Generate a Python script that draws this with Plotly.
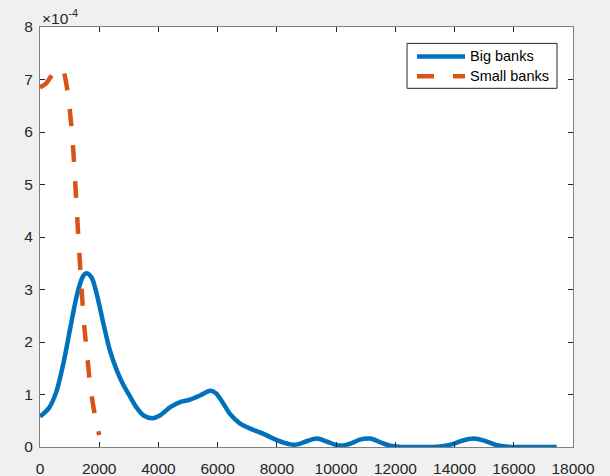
import plotly.graph_objects as go

# Data (density values in units of 1e-4)
big_x = [0, 300, 550, 800, 1000, 1250, 1450, 1580, 1750, 1900, 2150, 2350, 2600, 2800,
         3050, 3250, 3500, 3800, 4050, 4400, 4750, 5050, 5400, 5750, 5950, 6200, 6400,
         6750, 7100, 7550, 8000, 8450, 8700, 9000, 9350, 9700, 10000, 10250, 10550,
         10800, 11150, 11500, 11800, 12100, 12500, 13000, 13500, 13900, 14250, 14650,
         15000, 15400, 15800, 16200, 17000, 17450]
big_y_e4 = [0.58, 0.74, 1.05, 1.62, 2.2, 2.9, 3.25, 3.31, 3.22, 2.95, 2.33, 1.86, 1.45, 1.2,
            0.95, 0.76, 0.6, 0.55, 0.6, 0.76, 0.86, 0.9, 0.98, 1.07, 1.02, 0.82, 0.64,
            0.45, 0.35, 0.25, 0.13, 0.05, 0.05, 0.11, 0.16, 0.1, 0.04, 0.03, 0.08,
            0.14, 0.16, 0.09, 0.03, 0.005, 0.0, 0.0, 0.01, 0.05, 0.12, 0.16,
            0.12, 0.04, 0.005, 0.0, 0.0, 0.0]

small_x = [0, 200, 400, 600, 720, 800, 900, 1000, 1100, 1200, 1300, 1400, 1500, 1600,
           1700, 1800, 1900, 2000]
small_y_e4 = [6.85, 6.92, 7.08, 7.19, 7.22, 7.15, 6.88, 6.45, 5.85, 4.93, 3.96, 3.03, 2.27,
              1.71, 1.15, 0.78, 0.47, 0.23]

series_names = ["Big banks", "Small banks"]
series_colors = ["#0072BD", "#D95319"]
series_dash = ["solid", "17px,19px"]
y_ticks = [0, 1, 2, 3, 4, 5, 6, 7, 8]
x_ticks = [0, 2000, 4000, 6000, 8000, 10000, 12000, 14000, 16000, 18000]

scale = 1e-4
FONT = "Liberation Sans, Arial"
LW = 4.5

fig = go.Figure()
fig.add_trace(go.Scatter(x=big_x, y=[v * scale for v in big_y_e4], mode="lines",
                         name=series_names[0], showlegend=False,
                         line=dict(color=series_colors[0], width=LW, shape="spline",
                                   smoothing=0.8, dash=series_dash[0])))
fig.add_trace(go.Scatter(x=small_x, y=[v * scale for v in small_y_e4], mode="lines",
                         name=series_names[1], showlegend=False,
                         line=dict(color=series_colors[1], width=LW, shape="spline",
                                   smoothing=0.8, dash=series_dash[1])))

axis_common = dict(showline=True, linecolor="#808080", linewidth=1, mirror="ticks",
                   ticks="inside", ticklen=5, tickcolor="#262626", showgrid=False,
                   zeroline=False, automargin=False,
                   tickfont=dict(family=FONT, size=15.5, color="#262626"))

# Legend box (MATLAB style), drawn in paper coordinates
leg_x0, leg_x1, leg_y0, leg_y1 = 0.6886, 0.970, 0.854, 0.961
line_x0, line_x1, text_x = 0.7073, 0.7974, 0.803
row_y = [0.930, 0.8826]
shapes = [dict(type="rect", xref="paper", yref="paper", x0=leg_x0, x1=leg_x1, y0=leg_y0,
               y1=leg_y1, line=dict(color="#262626", width=1), fillcolor="white", layer="above")]
annotations = [dict(x=0, y=1, xref="paper", yref="paper", xanchor="left", yanchor="bottom",
                    text="×10<sup>-4</sup>", showarrow=False, yshift=-2,
                    font=dict(family=FONT, size=15.5, color="#262626"))]
for i, name in enumerate(series_names):
    shapes.append(dict(type="line", xref="paper", yref="paper", x0=line_x0, x1=line_x1,
                       y0=row_y[i], y1=row_y[i], layer="above",
                       line=dict(color=series_colors[i], width=LW, dash=series_dash[i])))
    annotations.append(dict(x=text_x, y=row_y[i], xref="paper", yref="paper",
                            xanchor="left", yanchor="middle", text=name, showarrow=False,
                            font=dict(family=FONT, size=14.5, color="black")))

fig.update_layout(
    width=610, height=476,
    margin=dict(l=40, r=37, t=27, b=29, pad=0),
    paper_bgcolor="#f0f0f0", plot_bgcolor="white",
    xaxis=dict(range=[0, 18000], tickvals=x_ticks, ticktext=[str(t) for t in x_ticks],
               ticklabelstandoff=7, **axis_common),
    yaxis=dict(range=[0, 8 * scale], tickvals=[t * scale for t in y_ticks],
               ticktext=[str(t) for t in y_ticks], ticklabelstandoff=3, **axis_common),
    showlegend=False,
    shapes=shapes,
    annotations=annotations,
)

fig.write_html("out.html")
